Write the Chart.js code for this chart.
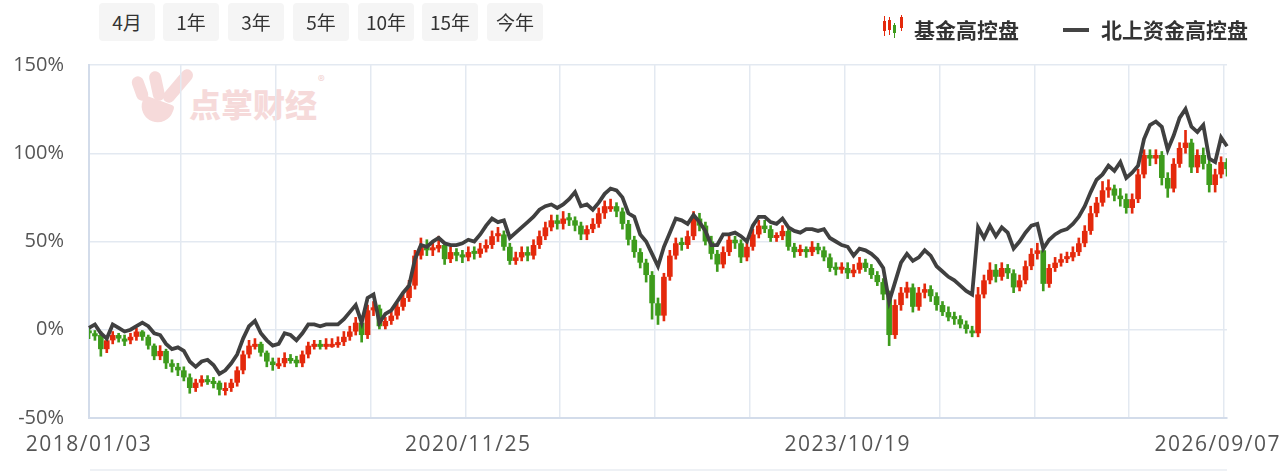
<!DOCTYPE html>
<html>
<head>
<meta charset="utf-8">
<script src="https://cdn.jsdelivr.net/npm/chart.js@4.4.1/dist/chart.umd.min.js"></script>
<style>
  body { margin: 0; background: #fff; font-family: "Noto Sans CJK SC", "Noto Sans", sans-serif; }
  #wrap { position: relative; width: 1281px; height: 471px; overflow: hidden; }
  #chart { position: absolute; left: 0; top: 0; }
  .btn { position: absolute; top: 3px; width: 56px; height: 38px; line-height: 38px; background: #f5f5f5;
         border-radius: 4px; text-align: center; font-size: 19px; color: #333; }
  .legend-text { position: absolute; top: 14px; font-size: 21px; font-weight: bold; color: #333; line-height: 30px; }
  .mini { position: absolute; }
  .wm { position: absolute; background: #f6dada; border-radius: 8px; }
  .watermark { position: absolute; left: 189px; top: 80px; font-size: 32px; font-weight: 900; color: #f6dada; letter-spacing: 0; }
  .reg { position: absolute; left: 318px; top: 70px; font-size: 14px; color: #f1d0d0; }
  .bottom-rule { position: absolute; left: 90px; top: 469px; width: 1137px; height: 2px; background: #eef1f5; }
</style>
</head>
<body>
<div id="wrap">
  <!-- watermark logo -->
  <div class="wm" style="left:134px;top:76px;width:12px;height:25px;transform:rotate(-20deg)"></div>
  <div class="wm" style="left:151px;top:71px;width:12px;height:30px;transform:rotate(-12deg)"></div>
  <div class="wm" style="left:172px;top:66px;width:12px;height:40px;transform:rotate(40deg)"></div>
  <div class="wm" style="left:140px;top:100px;width:32px;height:22px;border-radius:4px 4px 20px 20px;transform:rotate(20deg)"></div>
  <div class="watermark">点掌财经</div>
  <div class="reg">®</div>

  <canvas id="chart" width="1281" height="471"></canvas>

  <div class="btn" style="left:99px">4月</div>
  <div class="btn" style="left:163px">1年</div>
  <div class="btn" style="left:228px">3年</div>
  <div class="btn" style="left:293px">5年</div>
  <div class="btn" style="left:358px">10年</div>
  <div class="btn" style="left:422px">15年</div>
  <div class="btn" style="left:487px">今年</div>

  <!-- candle legend icon -->
  <div class="mini" style="left:884px;top:16px;width:1px;height:20px;background:#e4290c"></div>
  <div class="mini" style="left:883px;top:21px;width:3px;height:10px;background:#e4290c"></div>
  <div class="mini" style="left:889px;top:17px;width:1px;height:18px;background:#e4290c"></div>
  <div class="mini" style="left:888px;top:20px;width:3px;height:10px;background:#e4290c"></div>
  <div class="mini" style="left:894px;top:23px;width:1px;height:15px;background:#3d9b1c"></div>
  <div class="mini" style="left:893px;top:25px;width:3px;height:8px;background:#3d9b1c"></div>
  <div class="mini" style="left:901px;top:15px;width:1px;height:16px;background:#e4290c"></div>
  <div class="mini" style="left:900px;top:17px;width:3px;height:11px;background:#e4290c"></div>
  <div class="legend-text" style="left:914px">基金高控盘</div>

  <div class="mini" style="left:1063px;top:28px;width:26px;height:4px;background:#444"></div>
  <div class="legend-text" style="left:1101px">北上资金高控盘</div>

  <div class="bottom-rule"></div>
</div>

<script>
// x axis: one category per sample, labels only at these positions
const dateLabels = ['2018/01/03', '2020/11/25', '2023/10/19', '2026/09/07'];
const dateTickIndex = [0, 64, 128, 192];

// y axis ticks (%)
const yTicks = [-50, 0, 50, 100, 150];

// 基金高控盘 candles (%), open = previous close
const fundStart = 0;
const fundClose = [
  -2, -3, -11, -6, -3, -5, -6, -4, -1, -4, -9, -15, -12, -19, -21, -23,
  -27, -33, -30, -28, -29, -30, -34, -33, -30, -23, -14, -9, -8, -13, -18, -20,
  -19, -16, -17, -19, -14, -9, -8, -9, -8, -8, -7, -4, -1, 4, -3, 11,
  12, 2, 5, 8, 13, 18, 25, 42, 47, 45, 46, 48, 40, 44, 42, 41,
  44, 43, 46, 48, 53, 54, 47, 39, 41, 44, 42, 48, 53, 58, 62, 60,
  63, 62, 59, 54, 57, 60, 66, 70, 70, 67, 60, 51, 44, 38, 31, 15,
  8, 30, 42, 49, 48, 53, 63, 59, 50, 43, 37, 44, 51, 49, 41, 47,
  54, 59, 57, 52, 53, 56, 47, 44, 45, 44, 47, 45, 41, 35, 34, 35,
  32, 34, 38, 35, 31, 27, 20, -3, 14, 21, 24, 13, 21, 23, 19, 14,
  10, 7, 6, 3, 0, -2, 20, 28, 34, 30, 35, 32, 24, 28, 36, 43,
  45, 26, 35, 38, 40, 41, 44, 49, 56, 66, 72, 79, 80, 76, 74, 69,
  74, 88, 99, 97, 99, 86, 80, 94, 103, 106, 92, 99, 94, 82, 88, 95, 91
];
const fundHigh = [
  2, 0, -1, -4, -1, -2, -3, -2, 1, 0, -3, -8, -9, -11, -17, -19,
  -21, -25, -28, -26, -26, -27, -29, -30, -28, -21, -12, -6, -5, -7, -12, -16,
  -16, -13, -14, -15, -12, -7, -6, -6, -5, -5, -4, -1, 2, 7, 6, 14,
  16, 14, 7, 10, 15, 20, 28, 45, 52, 51, 50, 53, 49, 47, 46, 45,
  47, 47, 49, 51, 56, 58, 56, 49, 44, 47, 47, 51, 56, 61, 65, 65,
  67, 66, 64, 61, 59, 63, 69, 73, 74, 72, 69, 62, 53, 46, 40, 33,
  18, 32, 45, 52, 52, 56, 67, 66, 61, 53, 45, 47, 54, 53, 51, 50,
  57, 62, 62, 59, 55, 59, 58, 49, 48, 47, 50, 49, 47, 43, 38, 38,
  38, 37, 41, 40, 37, 33, 29, 22, 17, 24, 27, 26, 24, 26, 25, 21,
  16, 13, 10, 8, 5, 2, 24, 31, 38, 37, 38, 37, 34, 31, 39, 46,
  49, 47, 37, 41, 43, 44, 47, 52, 59, 70, 75, 84, 85, 82, 80, 77,
  77, 91, 102, 102, 102, 101, 89, 97, 106, 113, 108, 102, 103, 96, 91, 98, 97
];
const fundLow = [
  -5, -6, -15, -13, -8, -7, -9, -8, -6, -6, -11, -17, -17, -22, -24, -26,
  -29, -36, -35, -32, -31, -33, -37, -37, -35, -32, -25, -16, -11, -15, -21, -23,
  -22, -21, -19, -21, -21, -16, -11, -11, -11, -10, -10, -9, -6, -3, -7, -5,
  8, 0, 0, 3, 6, 11, 16, 23, 40, 42, 42, 44, 37, 38, 39, 38,
  39, 40, 41, 44, 46, 50, 45, 37, 37, 39, 39, 40, 46, 51, 56, 57,
  57, 59, 56, 51, 51, 55, 58, 63, 67, 64, 57, 48, 41, 35, 27, 6,
  3, 5, 28, 40, 45, 46, 51, 56, 48, 40, 33, 35, 42, 46, 38, 39,
  45, 52, 55, 50, 50, 51, 45, 41, 42, 41, 42, 43, 39, 33, 31, 32,
  29, 30, 32, 33, 29, 25, 17, -9, -5, 11, 18, 10, 11, 18, 16, 11,
  8, 5, 3, 1, -2, -4, -4, 18, 26, 27, 28, 29, 21, 22, 26, 34,
  40, 22, 24, 33, 36, 38, 39, 42, 47, 54, 64, 70, 75, 73, 70, 66,
  66, 72, 86, 93, 94, 82, 75, 78, 92, 100, 89, 89, 91, 78, 78, 86, 87
];

// 北上资金高控盘 line (%)
const northLine = [
  1, 3, -2, -5, 3, 1, -1, 0, 2, 4, 2, -2, -3, -8, -11, -10,
  -12, -18, -21, -18, -17, -20, -25, -23, -19, -14, -5, 2, 5, -2, -6, -9,
  -8, -2, -3, -6, -2, 3, 3, 2, 3, 3, 3, 6, 10, 14, 4, 18,
  20, 4, 9, 11, 16, 21, 25, 40, 48, 47, 50, 52, 49, 48, 48, 49,
  51, 50, 54, 59, 63, 61, 62, 52, 55, 58, 61, 64, 68, 70, 71, 69,
  71, 74, 78, 70, 71, 68, 72, 77, 80, 79, 75, 66, 64, 54, 50, 43,
  36, 47, 55, 63, 62, 60, 65, 61, 56, 48, 48, 54, 54, 55, 53, 50,
  59, 64, 64, 61, 60, 63, 58, 56, 55, 57, 57, 56, 57, 52, 50, 48,
  47, 42, 46, 45, 43, 40, 35, 16, 27, 38, 43, 39, 41, 45, 42, 36,
  33, 30, 28, 25, 22, 20, 58, 52, 59, 53, 58, 55, 46, 50, 55, 59,
  60, 46, 51, 54, 56, 57, 60, 64, 70, 78, 85, 88, 93, 90, 95, 86,
  89, 93, 108, 116, 118, 115, 102, 110, 120, 125, 115, 112, 116, 97, 95, 109, 104
];

const UP = '#e4290c';
const DOWN = '#3d9b1c';
const GRID = '#e3e9f1';
const AXIS = '#d3dcea';

const categories = fundClose.map((_, i) => i);
const fundOpen = fundClose.map((c, i) => (i === 0 ? fundStart : fundClose[i - 1]));
const fundBodies = fundClose.map((c, i) => [fundOpen[i], c]);
const fundWicks = fundClose.map((c, i) => [fundLow[i], fundHigh[i]]);
const fundColors = fundClose.map((c, i) => (c >= fundOpen[i] ? UP : DOWN));

// draws the date labels under the axis, kept inside the canvas
const xLabelPlugin = {
  id: 'xLabels',
  afterDraw(chart) {
    const { ctx } = chart;
    const x = chart.scales.x;
    ctx.save();
    ctx.font = '21px "Open Sans"';
    ctx.letterSpacing = '1.5px';
    ctx.fillStyle = '#555';
    ctx.textBaseline = 'middle';
    ctx.textAlign = 'left';
    dateLabels.forEach((t, k) => {
      const w = ctx.measureText(t).width;
      let left = x.getPixelForValue(dateTickIndex[k]) - w / 2;
      left = Math.max(0, Math.min(left, chart.width - w));
      ctx.fillText(t, left, chart.chartArea.bottom + 27);
    });
    ctx.restore();
  }
};

new Chart(document.getElementById('chart'), {
  type: 'bar',
  data: {
    labels: categories,
    datasets: [
      {
        type: 'line',
        label: '北上资金高控盘',
        data: northLine,
        borderColor: '#404040',
        borderWidth: 3.8,
        pointRadius: 0,
        tension: 0,
        order: 0
      },
      {
        label: '基金高控盘',
        data: fundBodies,
        backgroundColor: fundColors,
        borderWidth: 0,
        grouped: false,
        categoryPercentage: 1,
        barPercentage: 0.95,
        minBarLength: 3,
        order: 1
      },
      {
        label: '基金高控盘 影线',
        data: fundWicks,
        backgroundColor: fundColors,
        borderWidth: 0,
        grouped: false,
        barThickness: 2,
        order: 2
      }
    ]
  },
  options: {
    responsive: false,
    animation: false,
    events: [],
    layout: { padding: { top: 65, right: 54, bottom: 53, left: 0 } },
    plugins: {
      legend: { display: false },
      tooltip: { enabled: false }
    },
    scales: {
      x: {
        offset: false,
        ticks: { display: false, autoSkip: false },
        grid: {
          drawTicks: false,
          lineWidth: 1.5,
          color: c => (c.index % 16 === 0 ? GRID : 'rgba(0,0,0,0)')
        },
        border: { color: AXIS, width: 2 },
        afterFit: s => { s.height = 0; }
      },
      y: {
        min: -50,
        max: 150,
        afterBuildTicks: s => { s.ticks = yTicks.map(v => ({ value: v })); },
        ticks: {
          padding: 25,
          color: '#555',
          font: { family: '"Open Sans"', size: 20 },
          callback: v => v + '%'
        },
        grid: { drawTicks: false, color: GRID, lineWidth: 1.5 },
        border: { color: AXIS, width: 2 },
        afterFit: s => { s.width = 89; }
      }
    }
  },
  plugins: [xLabelPlugin]
});
</script>
</body>
</html>
